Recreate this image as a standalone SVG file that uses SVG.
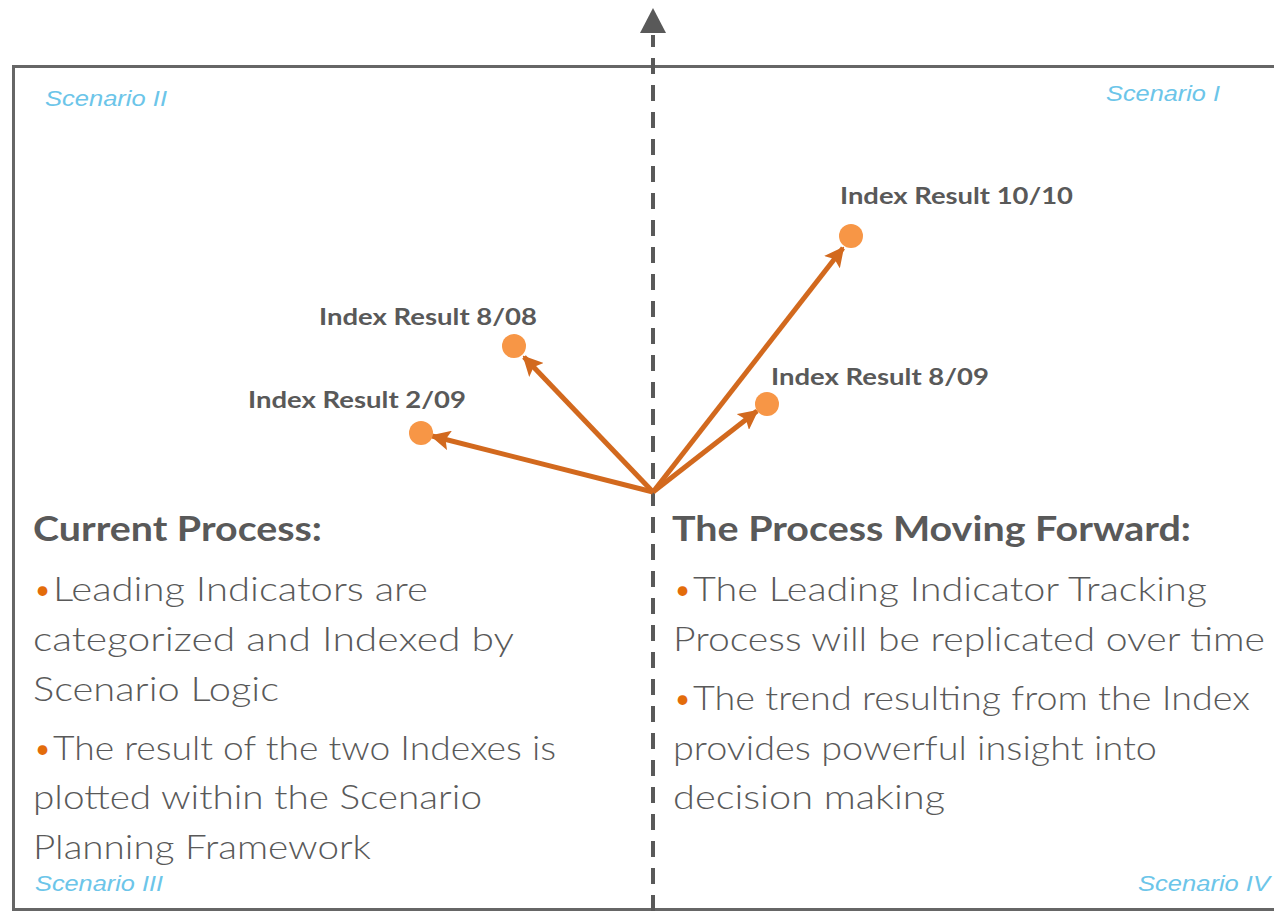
<svg xmlns="http://www.w3.org/2000/svg" width="1274" height="911" viewBox="0 0 1274 911">
  <style>
    .frame { fill: none; stroke: #666666; stroke-width: 3; }
    .axis { stroke: #595959; stroke-width: 4; stroke-dasharray: 16 11; fill: none; }
    .vec { stroke: #D2691E; stroke-width: 5; fill: none; }
    .dot { fill: #F79646; }
    .scen { font-family: "Liberation Sans", Arial, sans-serif; font-style: italic; font-size: 22px; fill: #6CC5E9; }
    .idx { font-family: "Lato", "Liberation Sans", sans-serif; font-weight: 700; font-size: 23px; fill: #595959; }
    .head { font-family: "Lato", "Liberation Sans", sans-serif; font-weight: 700; font-size: 34px; fill: #595959; }
    .body { font-family: "Lato", "Liberation Sans", sans-serif; font-weight: 300; font-size: 33px; fill: #595959; }
    .bul { fill: #E36C0A; }
  </style>
  <defs>
    <marker id="vecHead" viewBox="0 0 10 10" refX="9" refY="5" markerWidth="20" markerHeight="20" markerUnits="userSpaceOnUse" orient="auto">
      <path d="M0,0 L10,5 L0,10 L2,5 Z" fill="#D2691E"/>
    </marker>
  </defs>

  <!-- quadrant frame: top, left and bottom edges -->
  <g id="frame">
    <path class="frame" d="M1274,66.5 H13.5 V909.5 H1274"/>
  </g>

  <!-- vertical dashed axis with arrowhead -->
  <g id="axis">
    <line class="axis" x1="653" y1="911" x2="653" y2="35"/>
    <path d="M640,33 L653,8 L666,33 Z" fill="#595959"/>
  </g>

  <!-- quadrant labels -->
  <g id="scenario-1"><text class="scen" x="1106" y="101" textLength="114" lengthAdjust="spacingAndGlyphs">Scenario I</text></g>
  <g id="scenario-2"><text class="scen" x="45" y="106" textLength="122" lengthAdjust="spacingAndGlyphs">Scenario II</text></g>
  <g id="scenario-3"><text class="scen" x="35" y="891" textLength="128" lengthAdjust="spacingAndGlyphs">Scenario III</text></g>
  <g id="scenario-4"><text class="scen" x="1138" y="891" textLength="132" lengthAdjust="spacingAndGlyphs">Scenario IV</text></g>

  <!-- index result vectors -->
  <g id="connectors">
    <line class="vec" x1="653" y1="492" x2="843" y2="248" marker-end="url(#vecHead)"/>
    <line class="vec" x1="653" y1="492" x2="524" y2="357" marker-end="url(#vecHead)"/>
    <line class="vec" x1="653" y1="492" x2="432" y2="436" marker-end="url(#vecHead)"/>
    <line class="vec" x1="653" y1="492" x2="757" y2="411" marker-end="url(#vecHead)"/>
  </g>

  <g id="index-10-10">
    <circle class="dot" cx="851" cy="236" r="12"/>
    <text class="idx" x="840" y="204" textLength="233" lengthAdjust="spacingAndGlyphs">Index Result 10/10</text>
  </g>
  <g id="index-8-08">
    <circle class="dot" cx="514" cy="346" r="12"/>
    <text class="idx" x="319" y="325" textLength="218" lengthAdjust="spacingAndGlyphs">Index Result 8/08</text>
  </g>
  <g id="index-2-09">
    <circle class="dot" cx="421" cy="433" r="12"/>
    <text class="idx" x="248" y="408" textLength="218" lengthAdjust="spacingAndGlyphs">Index Result 2/09</text>
  </g>
  <g id="index-8-09">
    <circle class="dot" cx="767" cy="404" r="12"/>
    <text class="idx" x="771" y="385" textLength="218" lengthAdjust="spacingAndGlyphs">Index Result 8/09</text>
  </g>

  <!-- current process text block -->
  <g id="current-process">
    <text class="head" x="33" y="541" textLength="289" lengthAdjust="spacingAndGlyphs">Current Process:</text>
    <text class="body" x="33" y="601"><tspan class="bul">•</tspan><tspan x="53" textLength="375" lengthAdjust="spacingAndGlyphs">Leading Indicators are</tspan></text>
    <text class="body" x="33" y="651" textLength="481" lengthAdjust="spacingAndGlyphs">categorized and Indexed by</text>
    <text class="body" x="33" y="701" textLength="246" lengthAdjust="spacingAndGlyphs">Scenario Logic</text>
    <text class="body" x="33" y="760"><tspan class="bul">•</tspan><tspan x="53" textLength="503" lengthAdjust="spacingAndGlyphs">The result of the two Indexes is</tspan></text>
    <text class="body" x="33" y="809" textLength="449" lengthAdjust="spacingAndGlyphs">plotted within the Scenario</text>
    <text class="body" x="33" y="859" textLength="338" lengthAdjust="spacingAndGlyphs">Planning Framework</text>
  </g>

  <!-- forward process text block -->
  <g id="process-forward">
    <text class="head" x="672" y="541" textLength="519" lengthAdjust="spacingAndGlyphs">The Process Moving Forward:</text>
    <text class="body" x="673" y="601"><tspan class="bul">•</tspan><tspan x="693" textLength="514" lengthAdjust="spacingAndGlyphs">The Leading Indicator Tracking</tspan></text>
    <text class="body" x="673" y="651" textLength="592" lengthAdjust="spacingAndGlyphs">Process will be replicated over time</text>
    <text class="body" x="673" y="710"><tspan class="bul">•</tspan><tspan x="693" textLength="557" lengthAdjust="spacingAndGlyphs">The trend resulting from the Index</tspan></text>
    <text class="body" x="673" y="760" textLength="484" lengthAdjust="spacingAndGlyphs">provides powerful insight into</text>
    <text class="body" x="673" y="809" textLength="272" lengthAdjust="spacingAndGlyphs">decision making</text>
  </g>
</svg>
